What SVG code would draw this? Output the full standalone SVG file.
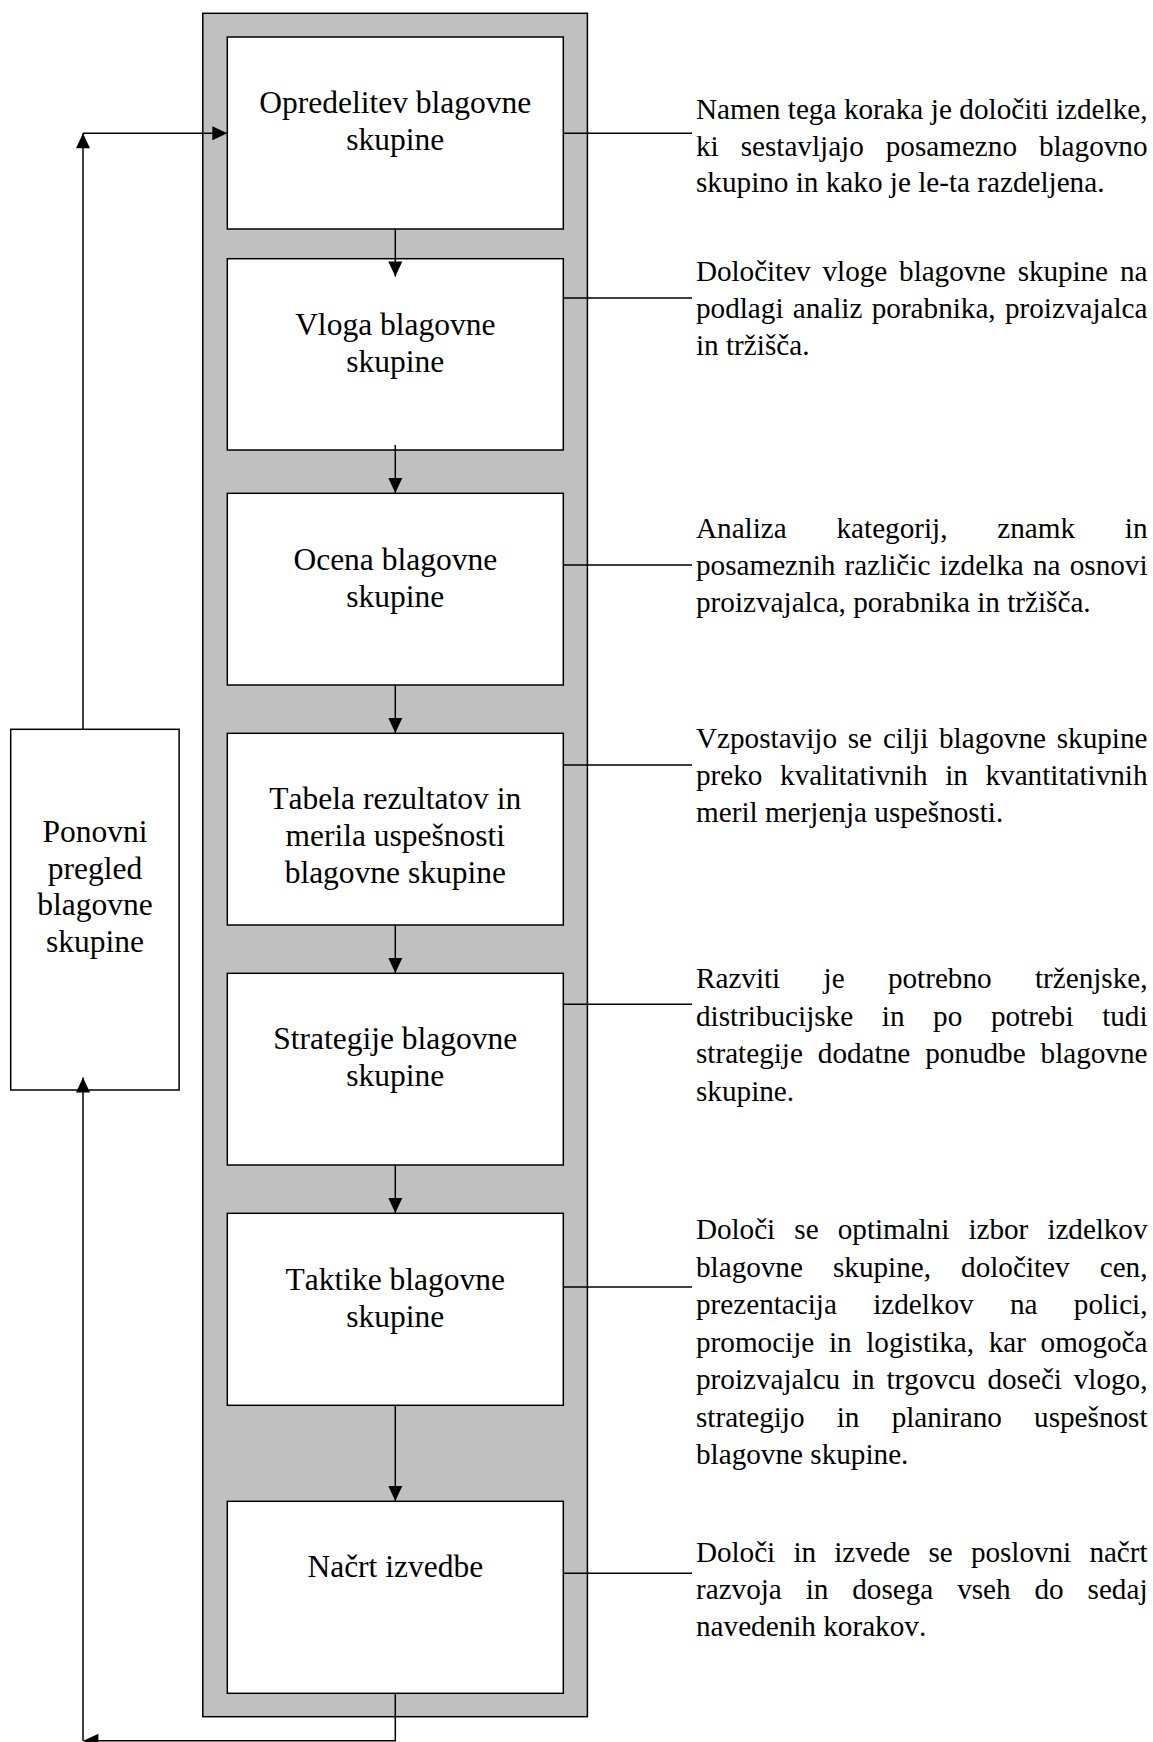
<svg xmlns="http://www.w3.org/2000/svg" width="1153" height="1742" viewBox="0 0 1153 1742">
<defs>
<style>
.frame{fill:#c0c0c0;stroke:#000;stroke-width:1.5}
.box{fill:#fff;stroke:#000;stroke-width:1.5}
.t{font-family:"Liberation Serif","Times New Roman",serif;font-size:31.5px;text-anchor:middle;fill:#000;font-kerning:none}
.d{font-family:"Liberation Serif","Times New Roman",serif;font-size:29.2px;fill:#000;font-kerning:none}
.ln{stroke:#000;stroke-width:1.5;fill:none}
.arr{stroke:#000;stroke-width:1.5;fill:none;marker-end:url(#ah)}
</style>
<marker id="ah" markerUnits="userSpaceOnUse" markerWidth="16" markerHeight="14" refX="15" refY="7" orient="auto" overflow="visible">
<path d="M0,0 L15,7 L0,14 z" fill="#000"/>
</marker>
</defs>
<rect width="1153" height="1742" fill="#fff"/>

<g id="frame">
<rect class="frame" x="202.8" y="13.3" width="384.6" height="1703.4"/>
</g>

<g id="n1">
<rect class="box" x="227.3" y="37" width="336" height="192"/>
<text class="t" x="395.3" y="113.3">Opredelitev blagovne</text>
<text class="t" x="395.3" y="150.3">skupine</text>
</g>
<g id="n2">
<rect class="box" x="227.3" y="258.7" width="336" height="191.3"/>
<text class="t" x="395.3" y="335">Vloga blagovne</text>
<text class="t" x="395.3" y="372">skupine</text>
</g>
<g id="n3">
<rect class="box" x="227.3" y="493.3" width="336" height="191.7"/>
<text class="t" x="395.3" y="569.6">Ocena blagovne</text>
<text class="t" x="395.3" y="606.6">skupine</text>
</g>
<g id="n4">
<rect class="box" x="227.3" y="733.3" width="336" height="191.7"/>
<text class="t" x="395.3" y="809.3">Tabela rezultatov in</text>
<text class="t" x="395.3" y="846">merila uspešnosti</text>
<text class="t" x="395.3" y="883">blagovne skupine</text>
</g>
<g id="n5">
<rect class="box" x="227.3" y="973.3" width="336" height="191.7"/>
<text class="t" x="395.3" y="1049">Strategije blagovne</text>
<text class="t" x="395.3" y="1086">skupine</text>
</g>
<g id="n6">
<rect class="box" x="227.3" y="1213.3" width="336" height="192"/>
<text class="t" x="395.3" y="1289.6">Taktike blagovne</text>
<text class="t" x="395.3" y="1326.6">skupine</text>
</g>
<g id="n7">
<rect class="box" x="227.3" y="1501.3" width="336" height="192"/>
<text class="t" x="395.3" y="1577">Načrt izvedbe</text>
</g>
<g id="n8">
<rect class="box" x="10.7" y="729.3" width="168.4" height="360.7"/>
<text class="t" x="95" y="842">Ponovni</text>
<text class="t" x="95" y="878.7">pregled</text>
<text class="t" x="95" y="915.3">blagovne</text>
<text class="t" x="95" y="952">skupine</text>
</g>

<g id="connectors">
<line class="arr" x1="395.3" y1="229" x2="395.3" y2="276.5"/>
<line class="arr" x1="395.3" y1="445" x2="395.3" y2="493"/>
<line class="arr" x1="395.3" y1="685" x2="395.3" y2="733"/>
<line class="arr" x1="395.3" y1="925" x2="395.3" y2="973"/>
<line class="arr" x1="395.3" y1="1165" x2="395.3" y2="1213"/>
<line class="arr" x1="395.3" y1="1405" x2="395.3" y2="1501"/>
<polyline class="arr" points="395.3,1693.3 395.3,1740.7 83.4,1740.7"/>
<line class="arr" x1="83" y1="1740.7" x2="83" y2="1077.5"/>
<line class="arr" x1="83" y1="729.3" x2="83" y2="133.3"/>
<line class="arr" x1="83" y1="133.3" x2="227.3" y2="133.3"/>
<line class="ln" x1="563.3" y1="133.3" x2="692" y2="133.3"/>
<line class="ln" x1="563.3" y1="298" x2="692" y2="298"/>
<line class="ln" x1="563.3" y1="565" x2="692" y2="565"/>
<line class="ln" x1="563.3" y1="765" x2="692" y2="765"/>
<line class="ln" x1="563.3" y1="1004.3" x2="692" y2="1004.3"/>
<line class="ln" x1="563.3" y1="1287" x2="692" y2="1287"/>
<line class="ln" x1="563.3" y1="1573.3" x2="692" y2="1573.3"/>
</g>

<g id="d1">
<text class="d" x="696" y="119" word-spacing="0.22" textLength="451.5" lengthAdjust="spacing">Namen tega koraka je določiti izdelke,</text>
<text class="d" x="696" y="155.5" word-spacing="14.68" textLength="451.5" lengthAdjust="spacing">ki sestavljajo posamezno blagovno</text>
<text class="d" x="696" y="192">skupino in kako je le-ta razdeljena.</text>
</g>
<g id="d2">
<text class="d" x="696" y="281" word-spacing="4.73" textLength="451.5" lengthAdjust="spacing">Določitev vloge blagovne skupine na</text>
<text class="d" x="696" y="318" word-spacing="2.0" textLength="451.5" lengthAdjust="spacing">podlagi analiz porabnika, proizvajalca</text>
<text class="d" x="696" y="355">in tržišča.</text>
</g>
<g id="d3">
<text class="d" x="696" y="537.5" word-spacing="42.54" textLength="451.5" lengthAdjust="spacing">Analiza kategorij, znamk in</text>
<text class="d" x="696" y="574.5" word-spacing="1.9" textLength="451.5" lengthAdjust="spacing">posameznih različic izdelka na osnovi</text>
<text class="d" x="696" y="611.5">proizvajalca, porabnika in tržišča.</text>
</g>
<g id="d4">
<text class="d" x="696" y="747.5" word-spacing="3.51" textLength="451.5" lengthAdjust="spacing">Vzpostavijo se cilji blagovne skupine</text>
<text class="d" x="696" y="784.5" word-spacing="10.34" textLength="451.5" lengthAdjust="spacing">preko kvalitativnih in kvantitativnih</text>
<text class="d" x="696" y="821.5">meril merjenja uspešnosti.</text>
</g>
<g id="d5">
<text class="d" x="696" y="988" word-spacing="36.05" textLength="451.5" lengthAdjust="spacing">Razviti je potrebno trženjske,</text>
<text class="d" x="696" y="1025.5" word-spacing="21.34" textLength="451.5" lengthAdjust="spacing">distribucijske in po potrebi tudi</text>
<text class="d" x="696" y="1063" word-spacing="7.66" textLength="451.5" lengthAdjust="spacing">strategije dodatne ponudbe blagovne</text>
<text class="d" x="696" y="1100.5">skupine.</text>
</g>
<g id="d6">
<text class="d" x="696" y="1239" word-spacing="12.02" textLength="451.5" lengthAdjust="spacing">Določi se optimalni izbor izdelkov</text>
<text class="d" x="696" y="1276.5" word-spacing="22.8" textLength="451.5" lengthAdjust="spacing">blagovne skupine, določitev cen,</text>
<text class="d" x="696" y="1314" word-spacing="29.03" textLength="451.5" lengthAdjust="spacing">prezentacija izdelkov na polici,</text>
<text class="d" x="696" y="1351.5" word-spacing="7.36" textLength="451.5" lengthAdjust="spacing">promocije in logistika, kar omogoča</text>
<text class="d" x="696" y="1389" word-spacing="4.53" textLength="451.5" lengthAdjust="spacing">proizvajalcu in trgovcu doseči vlogo,</text>
<text class="d" x="696" y="1426.5" word-spacing="24.95" textLength="451.5" lengthAdjust="spacing">strategijo in planirano uspešnost</text>
<text class="d" x="696" y="1464">blagovne skupine.</text>
</g>
<g id="d7">
<text class="d" x="696" y="1562" word-spacing="11.08" textLength="451.5" lengthAdjust="spacing">Določi in izvede se poslovni načrt</text>
<text class="d" x="696" y="1599" word-spacing="16.61" textLength="451.5" lengthAdjust="spacing">razvoja in dosega vseh do sedaj</text>
<text class="d" x="696" y="1636">navedenih korakov.</text>
</g>
</svg>
